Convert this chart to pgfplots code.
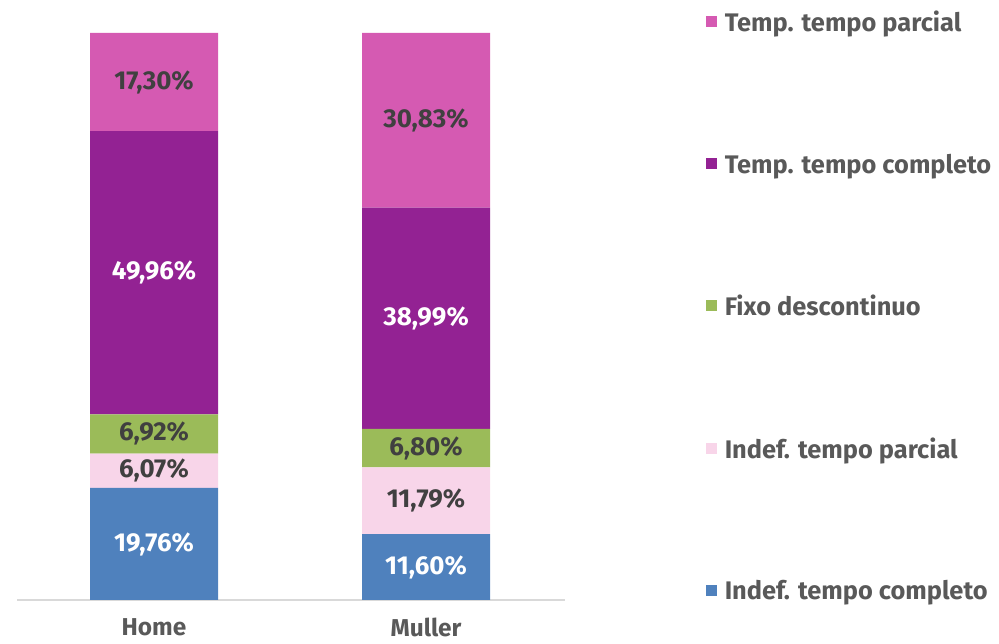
\documentclass[border=0pt]{standalone}
\usepackage{fontspec}
\setmainfont{Fira Sans}
\usepackage{pgfplots}
\pgfplotsset{compat=1.18}
\definecolor{cblue}{HTML}{4F81BD}
\definecolor{clpink}{HTML}{F8D5E9}
\definecolor{cgreen}{HTML}{9BBB59}
\definecolor{cpurple}{HTML}{932293}
\definecolor{cpink}{HTML}{D55AB2}
\definecolor{ctxt}{HTML}{404040}
\definecolor{clab}{HTML}{595959}
\newcommand{\lfont}{\fontsize{25.5}{29}\selectfont\bfseries}
\newcommand{\nfont}{\fontsize{26}{30}\selectfont\bfseries}
\begin{document}
\begin{tikzpicture}[x=1bp,y=1bp]
\useasboundingbox (0,0) rectangle (999,644);
\begin{axis}[
  at={(17bp,44bp)}, anchor=south west, scale only axis,
  width=548bp, height=567bp,
  ymin=0, ymax=100, xmin=-0.5037, xmax=1.511,
  ybar stacked, bar width=128bp,
  axis x line=bottom, axis y line=none,
  x axis line style={draw=black!15, line width=1.5bp, -},
  xtick={0,1}, xticklabels={Home,Muller},
  major tick length=0pt,
  xticklabel style={font=\fontsize{24.5}{28}\selectfont\bfseries, text=clab, anchor=center, yshift=-27bp},
  reverse legend,
  legend cell align=left,
  legend style={at={(1.252,1.045)}, anchor=north west, draw=none, fill=none,
    font=\lfont, text=clab, row sep=117.5bp,
    nodes={inner sep=1.5bp}},
  legend image code/.code={\fill[#1,draw=none] (0bp,-5bp) rectangle (11bp,6bp); \path (17bp,0bp);},
]
\addplot[fill=cblue, draw=none] coordinates {(0,19.76) (1,11.60)};
\addlegendentry{Indef. tempo completo}
\addplot[fill=clpink, draw=none] coordinates {(0,6.07) (1,11.79)};
\addlegendentry{Indef. tempo parcial}
\addplot[fill=cgreen, draw=none] coordinates {(0,6.92) (1,6.80)};
\addlegendentry{Fixo descontinuo}
\addplot[fill=cpurple, draw=none] coordinates {(0,49.96) (1,38.99)};
\addlegendentry{Temp. tempo completo}
\addplot[fill=cpink, draw=none] coordinates {(0,17.30) (1,30.83)};
\addlegendentry{Temp. tempo parcial}
\end{axis}
\begin{axis}[
  at={(17bp,44bp)}, anchor=south west, scale only axis,
  width=548bp, height=567bp,
  ymin=0, ymax=100, xmin=-0.5037, xmax=1.511,
  axis lines=none, ticks=none,
  nodes near coords, point meta=explicit symbolic,
  nodes near coords style={anchor=center, font=\nfont},
]
\addplot[draw=none, mark=none, nodes near coords style={text=white}] coordinates {
  (0,9.88) [19,76\%] (1,5.80) [11,60\%]
  (0,57.73) [49,96\%] (1,49.685) [38,99\%]};
\addplot[draw=none, mark=none, nodes near coords style={text=ctxt}] coordinates {
  (0,22.795) [6,07\%] (1,17.495) [11,79\%]
  (0,29.29) [6,92\%] (1,26.79) [6,80\%]
  (0,91.36) [17,30\%] (1,84.595) [30,83\%]};
\end{axis}
\end{tikzpicture}
\end{document}
